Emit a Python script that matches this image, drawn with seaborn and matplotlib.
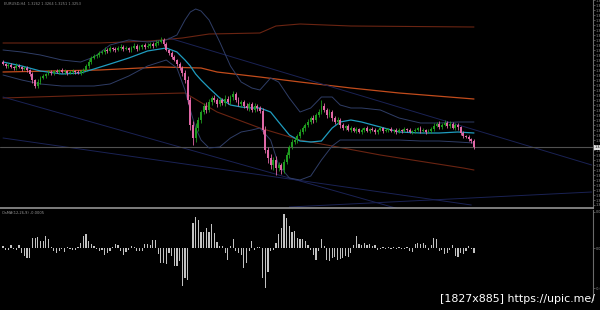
import numpy as np
import matplotlib
matplotlib.use("Agg")
import matplotlib.pyplot as plt
import matplotlib.transforms as mtrans
import seaborn as sns

# ---------------- data ----------------
first_open = 1.3338
close = [
    1.3336, 1.3334, 1.3335, 1.3333, 1.3332, 1.3334, 1.3333, 1.3331, 1.3332, 1.3330,
    1.3326, 1.3320, 1.3314, 1.3318,
    1.3322, 1.3324, 1.3326, 1.3328, 1.3327, 1.3329, 1.3328, 1.3330, 1.3328, 1.3329,
    1.3327, 1.3328, 1.3329, 1.3328, 1.3327, 1.3329, 1.3330,
    1.3334, 1.3338, 1.3342, 1.3344,
    1.3345, 1.3347, 1.3348, 1.3350, 1.3349, 1.3352, 1.3351, 1.3350, 1.3352, 1.3353, 1.3351, 1.3352,
    1.3350, 1.3352, 1.3354, 1.3351, 1.3353, 1.3355, 1.3353, 1.3354, 1.3356, 1.3354, 1.3357, 1.3358,
    1.3360, 1.3356,
    1.3350, 1.3347, 1.3343, 1.3340, 1.3336, 1.3332, 1.3327, 1.3320,
    1.3300, 1.3275, 1.3262, 1.3272,
    1.3280, 1.3288, 1.3294, 1.3290, 1.3298, 1.3302, 1.3300,
    1.3296, 1.3300, 1.3297, 1.3301, 1.3298, 1.3303, 1.3306, 1.3300, 1.3296, 1.3298, 1.3294,
    1.3292, 1.3296, 1.3290, 1.3294, 1.3292, 1.3289,
    1.3270, 1.3250, 1.3242, 1.3235, 1.3240, 1.3232,
    1.3235, 1.3230, 1.3238, 1.3245, 1.3253,
    1.3258, 1.3260, 1.3264, 1.3268, 1.3272, 1.3275, 1.3278, 1.3282, 1.3280, 1.3285, 1.3288, 1.3294,
    1.3290, 1.3285, 1.3288, 1.3282, 1.3278, 1.3280, 1.3275, 1.3272, 1.3274,
    1.3270, 1.3272, 1.3269, 1.3271, 1.3268, 1.3270, 1.3272, 1.3269, 1.3271, 1.3270,
    1.3268, 1.3270, 1.3272, 1.3269, 1.3270, 1.3271, 1.3269, 1.3270, 1.3268, 1.3270,
    1.3269, 1.3271, 1.3270, 1.3268, 1.3269, 1.3270, 1.3272, 1.3269, 1.3270, 1.3268, 1.3269, 1.3271,
    1.3274, 1.3276, 1.3273, 1.3275, 1.3277, 1.3274, 1.3276, 1.3272, 1.3275, 1.3273, 1.3267,
    1.3264, 1.3263, 1.3261, 1.3259, 1.3253,
]
# wick lengths in pips
up_wick = [
    2, 1, 2, 2, 1, 3, 2, 1, 2, 2, 1, 2, 1, 3, 2, 2, 1, 2, 2, 1,
    2, 1, 2, 2, 1, 2, 2, 1, 2, 1, 2, 2, 3, 2, 2, 1, 2, 2, 3, 2,
    2, 1, 2, 2, 3, 2, 2, 1, 2, 3, 2, 2, 1, 2, 3, 2, 2, 3, 2, 3,
    2, 2, 1, 2, 2, 1, 2, 2, 3, 4, 3, 4, 5, 3, 2, 3, 4, 3, 2, 3,
    2, 3, 2, 4, 3, 2, 3, 2, 3, 2, 2, 3, 2, 2, 3, 2, 2, 3, 4, 3,
    4, 3, 4, 3, 2, 3, 3, 2, 3, 2, 2, 3, 2, 2, 3, 2, 3, 2, 3, 6,
    3, 2, 3, 2, 2, 3, 2, 2, 1, 2, 2, 1, 2, 1, 2, 1, 2, 1, 2, 2,
    1, 2, 1, 2, 1, 2, 1, 2, 2, 1, 2, 1, 2, 1, 2, 1, 2, 2, 1, 2,
    2, 3, 2, 3, 2, 3, 2, 3, 2, 2, 2, 1, 2, 1, 2, 1, 2,
]
dn_wick = [
    1, 2, 2, 1, 2, 2, 1, 2, 1, 2, 2, 3, 2, 2, 2, 1, 2, 1, 2, 2,
    1, 2, 1, 2, 2, 1, 2, 2, 1, 2, 2, 1, 2, 2, 1, 2, 2, 1, 2, 2,
    1, 2, 2, 1, 2, 2, 1, 2, 2, 1, 2, 1, 2, 2, 1, 2, 2, 1, 2, 1,
    2, 1, 2, 2, 1, 2, 2, 3, 3, 4, 5, 7, 4, 3, 3, 2, 3, 2, 3, 2,
    3, 2, 2, 3, 2, 2, 3, 2, 2, 3, 2, 2, 3, 2, 2, 3, 2, 4, 3, 5,
    4, 5, 7, 3, 4, 3, 2, 3, 2, 2, 3, 2, 2, 3, 2, 2, 3, 2, 2, 2,
    2, 3, 2, 3, 2, 2, 3, 2, 2, 1, 2, 1, 2, 1, 2, 2, 1, 2, 1, 2,
    2, 1, 2, 1, 2, 1, 2, 2, 1, 2, 1, 2, 1, 2, 2, 1, 2, 1, 2, 1,
    2, 2, 1, 2, 2, 1, 2, 2, 1, 2, 3, 2, 2, 1, 2, 2, 2,
]
# OsMA histogram (in 0.0001 units)
osma = [
    2, -2, -2, 3, -1, -2, 3, -5, -8, -10, -10, 10, 10, 11, 7, 7, 12, 9, 1, -3,
    -5, -3, -1, -4, 1, -1, -2, -2, 1, 5, 12, 14, 7, 4, 2, -1, -3, -2, -7, -5,
    -3, 1, 4, 3, -3, -7, -4, -2, 2, 1, -3, -3, -3, 4, 4, 3, 8, 8, -6, -15,
    -15, -16, -5, -8, -18, -18, -13, -38, -30, -32, 0, 25, 31, 28, 16, 16, 20, 16, 24, 15,
    6, 2, 2, -5, -12, 2, 9, -3, -5, -7, -20, -15, -3, 7, -2, 1, 1, -30, -40, -24,
    -3, -2, 5, 14, 20, 34, 30, 22, 16, 17, 10,
    9, 9, 7, 3, -2, -7, -12, -3, 9, 2, -12, -13, -10, -9, -12, -11, -10, -8, -9, -5,
    3, 12, 4, 3, 5, 3, 4, 2, 3, -2, -1, 1, -1, 1, -1, 1, -1, 1, -1, -1,
    1, -3, -4, 4, 5, 4, 5, 3, -2, 3, 10, 9, -3, -2, -6, -5, -2, 3, -8, -9,
    -5, -6, -3, 2, -1, -5,
]
# Bollinger bands sampled at bar indices
band_idx = [0, 7, 14, 22, 29, 34, 40, 47, 54, 61, 65, 68, 70, 72, 74, 77, 81, 85, 89, 93,
            96, 100, 103, 107, 111, 115, 119, 123, 126, 130, 134, 141, 148, 156, 163, 170, 176]
band_mid = [1.3338, 1.3334, 1.3329, 1.3326, 1.3327, 1.3331, 1.3336, 1.3342, 1.3349, 1.3352,
            1.3348, 1.3340, 1.3334, 1.3326, 1.3320, 1.3312, 1.3302, 1.3295, 1.3293, 1.3292,
            1.3292, 1.3288, 1.3278, 1.3265, 1.3259, 1.3258, 1.3259, 1.3272, 1.3278, 1.3280,
            1.3278, 1.3273, 1.3268, 1.3267, 1.3267, 1.3268, 1.3267]
band_up = [1.3350, 1.3348, 1.3345, 1.3340, 1.3338, 1.3343, 1.3355, 1.3360, 1.3358, 1.3360,
           1.3365, 1.3380, 1.3388, 1.3391, 1.3389, 1.3380, 1.3358, 1.3334, 1.3318, 1.3312,
           1.3310, 1.3322, 1.3318, 1.3302, 1.3288, 1.3292, 1.3303, 1.3303, 1.3295, 1.3292,
           1.3292, 1.3290, 1.3282, 1.3277, 1.3277, 1.3278, 1.3278]
band_lo = [1.3325, 1.3320, 1.3316, 1.3314, 1.3314, 1.3314, 1.3316, 1.3324, 1.3334, 1.3340,
           1.3332, 1.3310, 1.3290, 1.3272, 1.3260, 1.3252, 1.3253, 1.3262, 1.3268, 1.3270,
           1.3272, 1.3260, 1.3235, 1.3222, 1.3220, 1.3224, 1.3240, 1.3254, 1.3260, 1.3260,
           1.3260, 1.3260, 1.3260, 1.3259, 1.3259, 1.3258, 1.3257]
# envelope / channel lines
env_mid_idx = [0, 36, 59, 74, 80, 96, 111, 130, 148, 176]
env_mid = [1.3328, 1.3330, 1.3333, 1.3332, 1.3328, 1.3323, 1.3318, 1.3312, 1.3307, 1.3301]
env_up_idx = [0, 36, 55, 67, 77, 96, 102, 111, 130, 176]
env_up = [1.3357, 1.3357, 1.3359, 1.3362, 1.3366, 1.3367, 1.3374, 1.3376, 1.3374, 1.3373]
env_lo_idx = [0, 36, 68, 80, 96, 111, 141, 172, 176]
env_lo = [1.3302, 1.3305, 1.3307, 1.3288, 1.3272, 1.3260, 1.3245, 1.3232, 1.3230]
# trend lines (bar index, price)
trend_lines = [
    ([62, 220], [1.3362, 1.3235]),
    ([0, 148], [1.3303, 1.3191]),
    ([0, 175], [1.3262, 1.3195]),
    ([107, 220], [1.3193, 1.3208]),
]
last_price = 1.3253
main_title = "EURUSD,H4  1.3262 1.3264 1.3251 1.3253"
sub_title = "OsMA(12,26,9) -0.0005"
watermark = "[1827x885] https://upic.me/"

# ---------------- style ----------------
sns.set_theme(style="dark", rc={"axes.facecolor": "black", "figure.facecolor": "black",
                                "savefig.facecolor": "black", "axes.grid": False})
plt.rcParams["font.family"] = ["DejaVu Sans"]

fig = plt.figure(figsize=(6.0, 3.1), dpi=100)
W, H = 600.0, 310.0
ax = fig.add_axes([0, 1 - 208 / H, 593 / W, 208 / H])
axs = fig.add_axes([0, 10 / H, 593 / W, 90 / H])

N = len(close)
idx = np.arange(N)
c = np.array(close)
o = np.array([first_open] + close[:-1])
hi = np.maximum(o, c) + np.array(up_wick) * 0.0001
lo = np.minimum(o, c) - np.array(dn_wick) * 0.0001
bull = c >= o
col = np.where(bull, "#1f9a1f", "#e068a6")

xmin = -3 / 2.676
xmax = xmin + 593 / 2.676

# channel / envelope lines
sns.lineplot(x=env_up_idx, y=env_up, ax=ax, color="#6a2412", lw=0.8, legend=False)
sns.lineplot(x=env_lo_idx, y=env_lo, ax=ax, color="#6a2412", lw=0.8, legend=False)
sns.lineplot(x=env_mid_idx, y=env_mid, ax=ax, color="#c24c1c", lw=0.9, legend=False)
for tx, ty in trend_lines:
    sns.lineplot(x=tx, y=ty, ax=ax, color="#1a2254", lw=0.7, legend=False)
ax.axhline(last_price, color="#505050", lw=0.8)

# bollinger
sns.lineplot(x=band_idx, y=band_up, ax=ax, color="#2f3d66", lw=0.7, legend=False)
sns.lineplot(x=band_idx, y=band_lo, ax=ax, color="#2f3d66", lw=0.7, legend=False)
sns.lineplot(x=band_idx, y=band_mid, ax=ax, color="#1f9cbf", lw=0.9, legend=False)

# candles
ax.vlines(idx, lo, hi, colors=col, lw=0.6, zorder=3)
body = np.maximum(np.abs(c - o), 0.00006)
ax.bar(idx, body, bottom=np.minimum(o, c), width=0.7, color=col, linewidth=0, zorder=4)

ax.set_xlim(xmin, xmax)
ax.set_ylim(1.3192, 1.3400)
ax.set_xticks([])
ax.yaxis.tick_right()
yt = np.arange(1.3195, 1.3400, 0.0005)
ax.set_yticks(yt)
ax.set_yticklabels(["" if abs(v - 1.3255) < 1e-6 else f"{v:.4f}" for v in yt],
                   fontsize=2.4, color="#9a9a9a")
ax.tick_params(axis="y", length=1.5, width=0.4, color="#909090", pad=0.5)
for s in ["top", "left"]:
    ax.spines[s].set_visible(False)
ax.spines["right"].set_color("#6a6a6a")
ax.spines["right"].set_linewidth(0.8)
ax.spines["bottom"].set_color("#a0a0a0")
ax.spines["bottom"].set_linewidth(1.1)
ax.set_xlabel("")
ax.set_ylabel("")

ax.text(0.006, 0.992, main_title, transform=ax.transAxes, fontsize=2.6,
        color="#8c8c8c", va="top", ha="left")
trans = mtrans.blended_transform_factory(ax.transAxes, ax.transData)
ax.text(1.002, last_price, f"{last_price:.4f}", transform=trans, fontsize=2.4,
        color="black", va="center", ha="left",
        bbox=dict(boxstyle="square,pad=0.15", fc="#e0e0e0", ec="none"))

# OsMA subpanel
axs.bar(idx, osma, width=0.45, color="#c2c2c2", linewidth=0)
axs.set_xlim(xmin, xmax)
axs.set_ylim(-52, 38)
axs.set_xticks([])
axs.yaxis.tick_right()
st = [36, 0, -40]
axs.set_yticks(st)
axs.set_yticklabels([f"{v / 10000:.4f}" for v in st], fontsize=2.4, color="#9a9a9a")
axs.tick_params(axis="y", length=1.5, width=0.4, color="#909090", pad=0.5)
for s in ["top", "left", "bottom"]:
    axs.spines[s].set_visible(False)
axs.spines["right"].set_color("#6a6a6a")
axs.spines["right"].set_linewidth(0.8)
axs.text(0.004, 0.985, sub_title, transform=axs.transAxes, fontsize=2.6,
         color="#9a9a9a", va="top", ha="left")

fig.text(440 / W, 1 - 299 / H, watermark, color="white", fontsize=7.9,
         va="center", ha="left")

fig.savefig("out.png", dpi=100, facecolor="black")
